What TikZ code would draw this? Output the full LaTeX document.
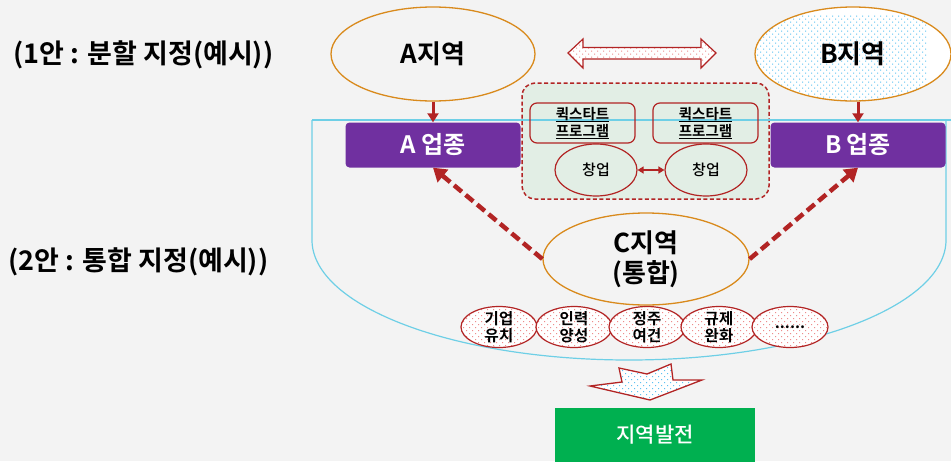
\documentclass[tikz,border=0pt]{standalone}
\usepackage{fontspec}
\setmainfont{Noto Sans CJK KR}[BoldFont=Noto Sans CJK KR Bold]
\newfontfamily\medf{Noto Sans CJK KR Medium}
\usetikzlibrary{arrows.meta,shapes.geometric}
\definecolor{bg}{HTML}{F3F3F3}
\definecolor{org}{HTML}{D98A1C}
\definecolor{dred}{HTML}{B22424}
\definecolor{purp}{HTML}{7030A0}
\definecolor{cyanl}{HTML}{6ECFE6}
\definecolor{grn}{HTML}{00B050}
\definecolor{boxfill}{HTML}{E2EEE5}
\definecolor{bluedot}{HTML}{5CC2F2}
\definecolor{pinkdot}{HTML}{EE8C8C}
\tikzset{
  dotfill/.style n args={3}{path picture={
    \begin{scope}[shift={(path picture bounding box.center)}]
      \fill[#1] \foreach \i in {0,...,#2}{\foreach \j in {0,...,#3}{
        (6*\i-3*#2,6*\j-3*#3) rectangle +(1,1)
        (6*\i-3*#2+3,6*\j-3*#3+3) rectangle +(1,1)}};
    \end{scope}}},
  region/.style={ellipse, draw=org, line width=1.3pt, inner sep=0pt, font=\bfseries\fontsize{26}{30}\selectfont, align=center},
  sector/.style={rounded corners=4pt, fill=purp, text=white, minimum width=175pt, minimum height=45pt, font=\bfseries\fontsize{24}{28}\selectfont},
  qbox/.style={draw=dred, line width=1.2pt, rounded corners=7pt, minimum width=105pt, minimum height=40pt, align=center, font=\bfseries\fontsize{14.5}{18}\selectfont, inner sep=0pt},
  startup/.style={ellipse, draw=dred, line width=1.2pt, minimum width=82pt, minimum height=52pt, inner sep=0pt, font=\medf\fontsize{15}{17}\selectfont},
  small/.style={ellipse, draw=dred, line width=1.2pt, minimum width=76pt, minimum height=41pt, inner sep=0pt, fill=white, dotfill={pinkdot}{14}{8}},
  smalltext/.style={font=\bfseries\fontsize{15.5}{17}\selectfont, align=center},
  flow/.style={dred, line width=3pt, -{Triangle[length=9pt,width=11pt]}},
  link/.style={dred, line width=4.5pt, dash pattern=on 10pt off 5pt, -{Triangle[length=13pt,width=16pt]}},
  sidelabel/.style={font=\bfseries\fontsize{27}{31}\selectfont, anchor=west}
}
\begin{document}
\begin{tikzpicture}[x=1pt,y=-1pt]
\fill[bg] (0,0) rectangle (951,461);
\useasboundingbox (0,0) rectangle (951,461);

% left labels
\node[sidelabel] (L1) at (10,55) {(1안 : 분할 지정(예시))};
\node[sidelabel] (L2) at (5,262) {(2안 : 통합 지정(예시))};

% dashed group box
\node[draw=dred, line width=1.5pt, dash pattern=on 4pt off 2.5pt, rounded corners=13pt, fill=boxfill, minimum width=247pt, minimum height=116pt] (G) at (645.5,141) {};

% cyan U region
\draw[cyanl, line width=1.2pt] (312,120) -- (312,240) arc[start angle=180, end angle=0, x radius=317, y radius=120] -- (946,120);
\draw[cyanl, line width=1.2pt] (312,120) -- (951,120);

% top regions
\node[region, fill=bg, minimum width=204pt, minimum height=94pt] (A) at (433,54) {A지역};
\node[region, fill=white, dotfill={bluedot}{34}{16}, minimum width=196pt, minimum height=94pt] (B) at (853,54) {B지역};

% double block arrow
\draw[dred, line width=1.2pt, fill=white, dotfill={pinkdot}{26}{6}]
  (568,53) -- (583,39) -- (583,47.5) -- (701,47.5) -- (701,39) -- (716,53) -- (701,68) -- (701,59) -- (583,59) -- (583,68) -- cycle;

% sector boxes
\node[sector] (Au) at (433,145) {A 업종};
\node[sector] (Bu) at (858,145) {B 업종};

\draw[flow] (A.south) -- (Au.north);
\draw[flow] (B.south -| Bu.north) -- (Bu.north);

% quick start programs
\node[qbox] (Q1) at (582.5,123) {\underline{퀵스타트}\\[-1pt]\underline{프로그램}};
\node[qbox] (Q2) at (705.5,123) {\underline{퀵스타트}\\[-1pt]\underline{프로그램}};
\node[startup] (S1) at (596,170) {창업};
\node[startup] (S2) at (706,170) {창업};
\draw[dred, line width=1.5pt, {Triangle[length=6pt,width=7pt]}-{Triangle[length=6pt,width=7pt]}] (S1) -- (S2);

% C region
\node[region, fill=bg, minimum width=206pt, minimum height=92pt] (C) at (646,259) {C지역\\(통합)};
\draw[link] (C.west) -- (Au.south);
\draw[link] (C.east) -- (Bu.south);

% policy ellipses
\node[small, label={[smalltext]center:기업\\유치}] (E1) at (499,327) {};
\node[small, label={[smalltext]center:인력\\양성}] (E2) at (574,327) {};
\node[small, label={[smalltext]center:정주\\여건}] (E3) at (647,327) {};
\node[small, label={[smalltext]center:규제\\완화}] (E4) at (719,327) {};
\node[small, label={[smalltext]center:......}] (E5) at (790,327) {};

% down block arrow
\draw[dred, line width=1.3pt, fill=white, dotfill={bluedot}{20}{8}]
  (619,368) -- (647,374) -- (671,364) -- (673,380) -- (702,380) -- (650,400) -- (590,386) -- (622,382) -- cycle;

% result
\node[fill=grn, minimum width=200pt, minimum height=60pt, text=white, font=\medf\fontsize{21}{25}\selectfont, anchor=north] (R) at (655,408) {\raisebox{8pt}{지역발전}};
\end{tikzpicture}
\end{document}
